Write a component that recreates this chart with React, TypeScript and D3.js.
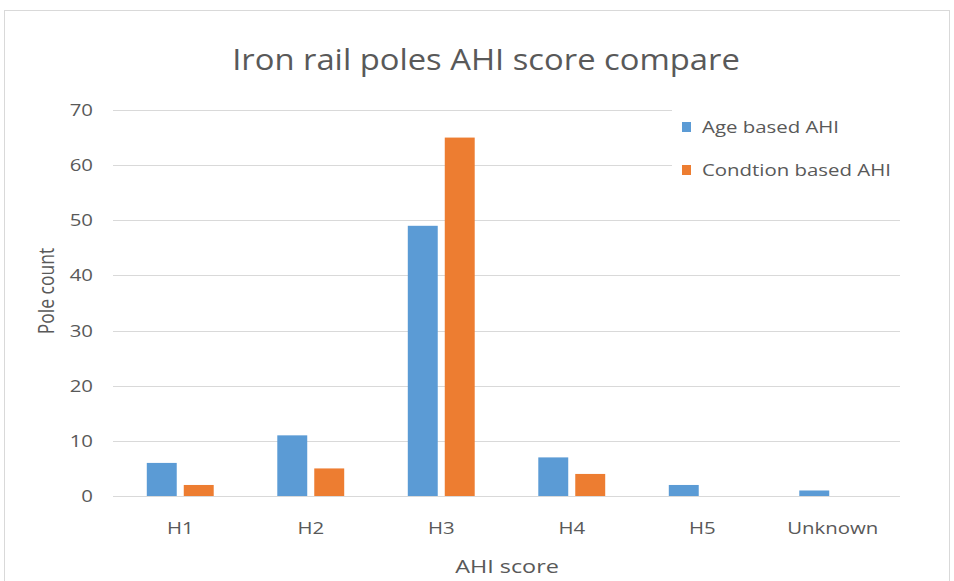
import { useEffect, useRef } from 'react';
import * as d3 from 'd3';

const categories = ['H1', 'H2', 'H3', 'H4', 'H5', 'Unknown'];
const seriesNames = ['Age based AHI', 'Condtion based AHI'];
const ageBased = [6, 11, 49, 7, 2, 1];
const conditionBased = [2, 5, 65, 4, 0, 0];
const yTicks = [0, 10, 20, 30, 40, 50, 60, 70];
const colors = ['#5B9BD5', '#ED7D31'];

const App = () => {
	const ref = useRef<SVGSVGElement>(null);

	useEffect(() => {
		document.body.style.margin = '0';
		const width = 954,
			height = 581;
		const margin = { top: 110, right: 56, bottom: 85, left: 115 };
		const font = "'Open Sans', 'Noto Sans', sans-serif";
		const textColor = '#595959';
		// the source picture is a bit wider than tall, so glyphs are stretched sideways
		const sx = 1.2;

		const svg = d3.select(ref.current);
		svg.selectAll('*').remove();

		// chart frame
		svg
			.append('rect')
			.attr('x', 4.5)
			.attr('y', 10.5)
			.attr('width', 945)
			.attr('height', 600)
			.attr('fill', '#fff')
			.attr('stroke', '#d9d9d9');

		const x0 = d3
			.scaleBand()
			.domain(categories)
			.range([margin.left, width - margin.right]);

		const x1 = d3
			.scaleBand()
			.domain(seriesNames)
			.range([0, x0.bandwidth()])
			.paddingInner(0.19)
			.paddingOuter(0.86);

		const y = d3
			.scaleLinear()
			.domain([0, 70])
			.range([height - margin.bottom, margin.top]);

		// gridlines
		svg
			.append('g')
			.selectAll('line')
			.data(yTicks)
			.join('line')
			.attr('x1', margin.left - 2)
			.attr('x2', width - margin.right + 2)
			.attr('y1', (d) => Math.round(y(d)) + 0.5)
			.attr('y2', (d) => Math.round(y(d)) + 0.5)
			.attr('stroke', '#d9d9d9')
			.attr('stroke-width', 1);

		// y tick labels
		svg
			.append('g')
			.selectAll('text')
			.data(yTicks)
			.join('text')
			.attr('transform', (d) => `translate(93,${y(d)}) scale(${sx},1)`)
			.attr('dy', '0.35em')
			.attr('text-anchor', 'end')
			.attr('font-family', font)
			.attr('font-size', 17)
			.attr('fill', textColor)
			.text((d) => d);

		// bars
		const rows = categories.map((c, i) => ({
			cat: c,
			values: [ageBased[i], conditionBased[i]],
		}));

		svg
			.append('g')
			.selectAll('g')
			.data(rows)
			.join('g')
			.attr('transform', (d) => `translate(${x0(d.cat)},0)`)
			.selectAll('rect')
			.data((d) => d.values.map((v, j) => ({ key: seriesNames[j], v, j })))
			.join('rect')
			.attr('x', (d) => x1(d.key)!)
			.attr('y', (d) => y(d.v))
			.attr('width', x1.bandwidth())
			.attr('height', (d) => y(0) - y(d.v))
			.attr('fill', (d) => colors[d.j]);

		// x tick labels
		svg
			.append('g')
			.selectAll('text')
			.data(categories)
			.join('text')
			.attr('transform', (d) => `translate(${x0(d)! + x0.bandwidth() / 2},528) scale(${sx},1)`)
			.attr('dy', '0.35em')
			.attr('text-anchor', 'middle')
			.attr('font-family', font)
			.attr('font-size', 17)
			.attr('fill', textColor)
			.text((d) => d);

		// title
		svg
			.append('text')
			.attr('transform', 'translate(486,60) scale(1.13,1)')
			.attr('dy', '0.35em')
			.attr('text-anchor', 'middle')
			.attr('font-family', font)
			.attr('font-size', 29)
			.attr('fill', textColor)
			.text('Iron rail poles AHI score compare');

		// axis titles
		svg
			.append('text')
			.attr('transform', 'translate(46,291) scale(1.25,1) rotate(-90)')
			.attr('dy', '0.35em')
			.attr('text-anchor', 'middle')
			.attr('font-family', font)
			.attr('font-size', 17.5)
			.attr('fill', textColor)
			.text('Pole count');

		svg
			.append('text')
			.attr('transform', 'translate(507,567) scale(1.3,1)')
			.attr('dy', '0.35em')
			.attr('text-anchor', 'middle')
			.attr('font-family', font)
			.attr('font-size', 18)
			.attr('fill', textColor)
			.text('AHI score');

		// legend
		const legend = svg.append('g').attr('transform', 'translate(672,104)');
		legend
			.append('rect')
			.attr('width', 232)
			.attr('height', 90)
			.attr('fill', '#fff');
		const items = legend
			.selectAll('g')
			.data(seriesNames)
			.join('g')
			.attr('transform', (d, i) => `translate(10,${23 + i * 43})`);
		items
			.append('rect')
			.attr('x', 0)
			.attr('y', -5)
			.attr('width', 9)
			.attr('height', 10)
			.attr('fill', (d, i) => colors[i]);
		items
			.append('text')
			.attr('transform', `translate(20,0) scale(${sx},1)`)
			.attr('dy', '0.35em')
			.attr('font-family', font)
			.attr('font-size', 17)
			.attr('fill', textColor)
			.text((d) => d);
	}, []);

	return <svg ref={ref} width={954} height={581} style={{ display: 'block' }}></svg>;
};

export default App;
